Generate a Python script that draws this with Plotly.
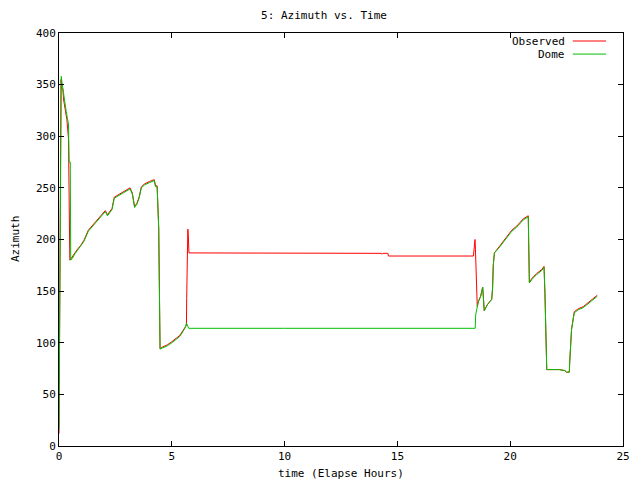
import plotly.graph_objects as go

# Dome (green) series
dome_t = [0, 0.02, 0.05, 0.1, 0.12, 0.17, 0.22, 0.27, 0.32, 0.37, 0.42, 0.45, 0.5, 0.52,
          0.6, 0.7, 0.8, 0.95, 1.1, 1.3, 1.5, 1.75, 1.9, 2.05, 2.15, 2.35, 2.45, 2.7, 2.95,
          3.15, 3.25, 3.35, 3.45, 3.55, 3.65, 3.8, 4.0, 4.22, 4.28, 4.35, 4.42, 4.45, 4.48,
          4.6, 4.8, 5.0, 5.2, 5.35, 5.5, 5.6, 5.65, 5.75, 10, 15, 18.45, 18.47, 18.59,
          18.69, 18.78, 18.85, 18.99, 19.18, 19.22, 19.25, 19.3, 19.47, 19.77, 20.07, 20.29,
          20.58, 20.8, 20.83, 20.85, 20.95, 21.17, 21.4, 21.5, 21.54, 21.59, 21.62, 22.18,
          22.43, 22.5, 22.62, 22.64, 22.68, 22.72, 22.84, 23.02, 23.24, 23.46, 23.68, 23.86]
dome_az = [16, 100, 272, 358, 354, 345, 337, 330, 324, 318, 312, 275, 275, 180,
           182, 186, 189, 193, 198, 208, 213, 220, 224, 227, 223, 229, 240, 243, 246,
           249, 244, 231, 234, 240, 250, 253, 255, 257, 251, 251, 211, 134, 94,
           95, 97, 100, 103, 106, 111, 115, 119, 114, 114, 114, 114, 127, 140,
           145, 154, 131, 137, 142, 153, 175, 187, 191, 200, 208, 212,
           219, 222, 190, 158, 161, 166, 170, 173, 148, 99, 74, 74,
           73, 71.5, 71.5, 82, 103, 113, 129, 132, 134, 138, 142, 145]

# Observed (red) series
obs_t = [0, 0.02, 0.05, 0.09, 0.12, 0.17, 0.2, 0.25, 0.3, 0.35, 0.42, 0.43, 0.46, 0.48,
         0.55, 0.7, 0.8, 0.95, 1.1, 1.3, 1.5, 1.75, 1.9, 2.05, 2.15, 2.35, 2.45, 2.7, 2.95,
         3.15, 3.25, 3.35, 3.45, 3.55, 3.65, 3.8, 4.0, 4.22, 4.28, 4.35, 4.42, 4.45, 4.48,
         4.6, 4.8, 5.0, 5.2, 5.35, 5.5, 5.6, 5.65, 5.66, 5.69, 5.71, 5.72, 5.73, 5.76,
         14.3, 14.32, 14.36, 14.58, 14.6, 18.37, 18.42, 18.44, 18.46, 18.51, 18.54, 18.59,
         18.69, 18.78, 18.85, 18.99, 19.18, 19.22, 19.25, 19.3, 19.47, 19.77, 20.07, 20.29,
         20.58, 20.8, 20.83, 20.85, 20.95, 21.17, 21.4, 21.5, 21.54, 21.59, 21.62, 22.18,
         22.43, 22.5, 22.62, 22.64, 22.68, 22.72, 22.84, 23.02, 23.24, 23.46, 23.68, 23.86]
obs_az = [12, 100, 272, 355, 346, 346, 336, 328, 322, 316, 298, 277, 202, 180,
          182, 187, 190, 194, 199, 209, 214, 221, 225, 228, 224, 230, 241, 244, 247,
          250, 245, 232, 235, 241, 251, 254, 256, 258, 252, 252, 211, 134, 94,
          96, 98, 101, 104, 107, 112, 116, 117, 143, 187, 210, 190, 205, 187,
          186.6, 185.7, 186.6, 186.6, 184, 184, 192, 200, 190, 151, 135, 140,
          145, 154, 131, 137, 142, 153, 175, 187, 192, 201, 209, 213,
          220, 223, 190, 158, 162, 167, 171, 174, 148, 99, 74, 74,
          73, 71.5, 71.5, 82, 103, 113, 130, 133, 135, 139, 143, 146]

x_ticks = [0, 5, 10, 15, 20, 25]
y_ticks = [0, 50, 100, 150, 200, 250, 300, 350, 400]

FONT = "DejaVu Sans Mono"

fig = go.Figure()
fig.add_trace(go.Scatter(x=obs_t, y=obs_az, mode="lines", name="Observed",
                         line=dict(color="#ff0000", width=1), showlegend=False))
fig.add_trace(go.Scatter(x=dome_t, y=dome_az, mode="lines", name="Dome",
                         line=dict(color="#00c000", width=1), showlegend=False))

axis_common = dict(showgrid=False, zeroline=False, showline=True, linecolor="black",
                   linewidth=1, mirror="ticks", ticks="inside", ticklen=5,
                   tickcolor="black", automargin=False,
                   tickfont=dict(family=FONT, size=11, color="black"))

fig.update_xaxes(range=[0, 25], tickvals=x_ticks, ticktext=[str(v) for v in x_ticks],
                 **axis_common)
fig.update_yaxes(range=[0, 400], tickvals=y_ticks, ticktext=[str(v) for v in y_ticks],
                 **axis_common)

# axis titles
fig.add_annotation(x=0.5, y=-0.0654, xref="paper", yref="paper",
                   text="time (Elapse Hours)", showarrow=False,
                   xanchor="center", yanchor="middle",
                   font=dict(family=FONT, size=11, color="black"))
fig.add_annotation(x=-0.077, y=0.5, xref="paper", yref="paper",
                   text="Azimuth", showarrow=False, textangle=-90,
                   xanchor="center", yanchor="middle",
                   font=dict(family=FONT, size=11, color="black"))

# gnuplot-style legend: text then sample line
legend_items = [("Observed", "#ff0000", 0.9806), ("Dome", "#00c000", 0.949)]
for name, color, yp in legend_items:
    fig.add_annotation(x=0.900, y=yp, xref="paper", yref="paper", text=name,
                       showarrow=False, xanchor="right", yanchor="middle",
                       font=dict(family=FONT, size=11, color="black"))
    fig.add_shape(type="line", xref="paper", yref="paper", x0=0.911, x1=0.970,
                  y0=yp, y1=yp, line=dict(color=color, width=1))

fig.update_layout(
    width=632, height=472,
    margin=dict(l=51, r=17, t=25, b=34),
    paper_bgcolor="white", plot_bgcolor="white",
    title=dict(text="5: Azimuth vs. Time", x=0.5, xanchor="center", y=0.985,
               yanchor="middle", font=dict(family=FONT, size=11, color="black")),
    font=dict(family=FONT, size=11, color="black"),
)

fig.write_html("out.html")
